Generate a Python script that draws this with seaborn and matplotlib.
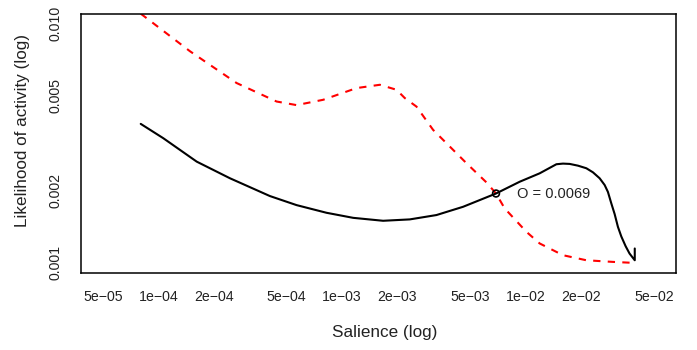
import matplotlib
matplotlib.use("Agg")
import numpy as np
import pandas as pd
import matplotlib.pyplot as plt
import seaborn as sns

# ---- data ----
salience_black = [8.02e-5, 1.064e-4, 1.618e-4, 2.455e-4, 4.05e-4, 5.66e-4, 8.24e-4,
                  1.151e-3, 1.675e-3, 2.34e-3, 3.27e-3, 4.565e-3, 6.9e-3, 9.29e-3,
                  1.193e-2, 1.471e-2, 1.598e-2, 1.738e-2, 1.928e-2, 2.142e-2, 2.326e-2,
                  2.53e-2, 2.694e-2, 2.807e-2, 2.929e-2, 3.054e-2, 3.182e-2, 3.32e-2,
                  3.504e-2, 3.68e-2, 3.93e-2, 3.93e-2]
likelihood_black = [3.81e-3, 3.32e-3, 2.65e-3, 2.258e-3, 1.903e-3, 1.744e-3, 1.62e-3,
                    1.543e-3, 1.50e-3, 1.52e-3, 1.585e-3, 1.716e-3, 1.95e-3, 2.184e-3,
                    2.368e-3, 2.584e-3, 2.60e-3, 2.592e-3, 2.549e-3, 2.486e-3, 2.391e-3,
                    2.258e-3, 2.116e-3, 1.98e-3, 1.773e-3, 1.60e-3, 1.415e-3, 1.29e-3,
                    1.175e-3, 1.095e-3, 1.026e-3, 1.149e-3]

salience_red = [8.02e-5, 1.488e-4, 2.669e-4, 4.405e-4, 5.66e-4, 7.90e-4, 1.2e-3,
                1.608e-3, 1.982e-3, 2.199e-3, 2.545e-3, 3.135e-3, 4.763e-3, 6.12e-3,
                6.9e-3, 7.69e-3, 1.01e-2, 1.193e-2, 1.598e-2, 2.142e-2, 2.989e-2, 3.93e-2]
likelihood_red = [1.10e-2, 7.66e-3, 5.644e-3, 4.725e-3, 4.564e-3, 4.804e-3, 5.376e-3,
                  5.55e-3, 5.29e-3, 4.883e-3, 4.50e-3, 3.597e-3, 2.61e-3, 2.17e-3,
                  1.95e-3, 1.69e-3, 1.349e-3, 1.206e-3, 1.077e-3, 1.026e-3, 1.010e-3, 1.0e-3]

optimum_x = 0.0069
optimum_y = 1.95e-3

x_ticks = [5e-5, 1e-4, 2e-4, 5e-4, 1e-3, 2e-3, 5e-3, 1e-2, 2e-2, 5e-2]
x_tick_labels = ["5e\u221205", "1e\u221204", "2e\u221204", "5e\u221204", "1e\u221203",
                 "2e\u221203", "5e\u221203", "1e\u221202", "2e\u221202", "5e\u221202"]
y_ticks = [0.001, 0.002, 0.005, 0.010]
y_tick_labels = ["0.001", "0.002", "0.005", "0.010"]

x_label = "Salience (log)"
y_label = "Likelihood of activity (log)"

# ---- style ----
sns.set_theme(style="white")
plt.rcParams["font.family"] = ["Liberation Sans", "DejaVu Sans"]

fig = plt.figure(figsize=(6.97, 3.5), dpi=100)
W, H = 697.0, 350.0
left, right, top, bottom = 81.0, 676.0, 14.0, 272.5
ax = fig.add_axes([left / W, 1 - bottom / H, (right - left) / W, (bottom - top) / H])

df_black = pd.DataFrame({"salience": salience_black, "likelihood": likelihood_black})
df_red = pd.DataFrame({"salience": salience_red, "likelihood": likelihood_red})

sns.lineplot(data=df_red, x="salience", y="likelihood", ax=ax, color="#ff0000",
             linewidth=1.5, estimator=None, sort=False)
ax.lines[-1].set_dashes([3.5, 3.5])
sns.lineplot(data=df_black, x="salience", y="likelihood", ax=ax, color="black",
             linewidth=1.5, estimator=None, sort=False)
sns.scatterplot(x=[optimum_x], y=[optimum_y], ax=ax, marker="o", s=24,
                facecolors="none", edgecolor="black", linewidth=1.2, zorder=5)
ax.annotate(f"O = {optimum_x}", xy=(optimum_x, optimum_y), xytext=(15, 0),
            textcoords="offset points", ha="left", va="center", fontsize=10.5,
            color="#222222")

ax.set_xscale("log")
ax.set_yscale("log")

# R-style 4% padding on log axes
def padded(lo, hi):
    a, b = np.log10(lo), np.log10(hi)
    d = (b - a) * 0.04
    return 10 ** (a - d), 10 ** (b + d)

ax.set_xlim(*padded(5e-5, 5e-2))
ax.set_ylim(*padded(1e-3, 1e-2))

ax.set_xticks(x_ticks)
ax.set_xticklabels(x_tick_labels)
ax.set_yticks(y_ticks)
ax.set_yticklabels(y_tick_labels)
ax.xaxis.set_minor_locator(matplotlib.ticker.NullLocator())
ax.yaxis.set_minor_locator(matplotlib.ticker.NullLocator())

ax.tick_params(axis="both", which="major", direction="out", length=6.5, width=0.9,
               color="black", labelsize=10.2, labelcolor="#222222")
ax.tick_params(axis="x", pad=6)
ax.tick_params(axis="y", pad=7)
plt.setp(ax.get_yticklabels(), rotation=90, va="center")

for s in ax.spines.values():
    s.set_visible(True)
    s.set_color("black")
    s.set_linewidth(1.1)

ax.set_xlabel(x_label, fontsize=12.3, color="#222222")
ax.set_ylabel(y_label, fontsize=12.3, color="#222222")
ax.xaxis.set_label_coords(0.511, -0.205)
ax.yaxis.set_label_coords(-0.085, 0.55)

fig.savefig("out.png", dpi=100)
